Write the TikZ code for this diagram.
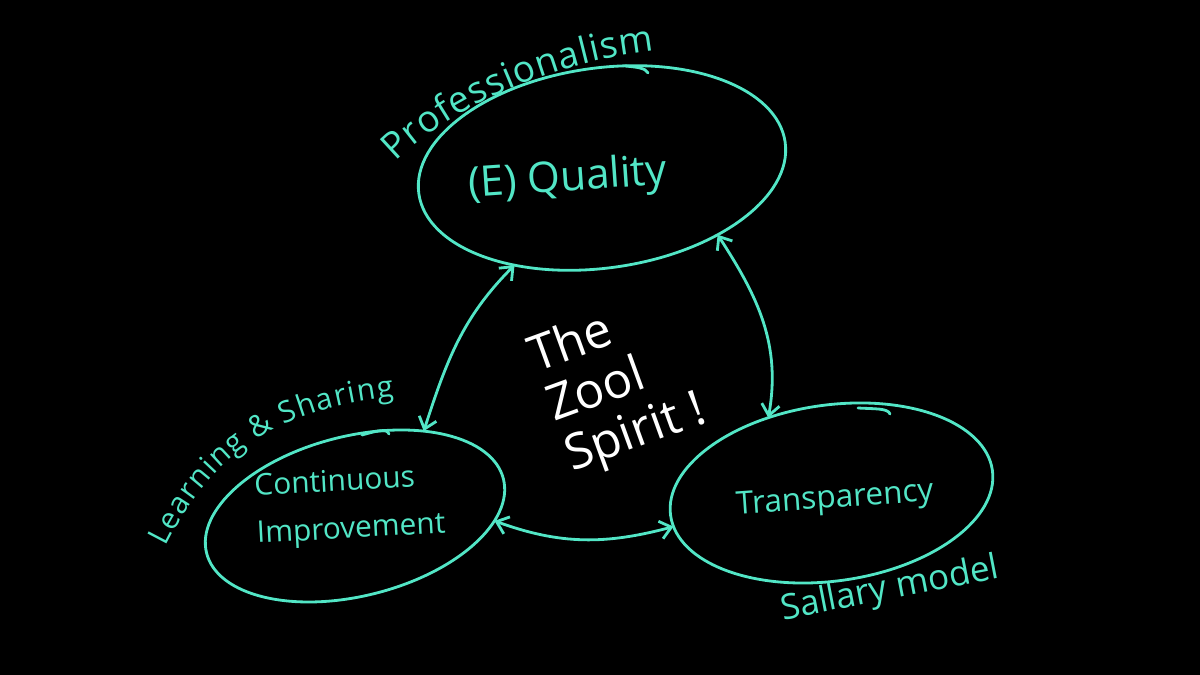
\documentclass[tikz,border=0pt]{standalone}
\usepackage{fontspec}
\setmainfont{Open Sans}
\usetikzlibrary{arrows.meta,shapes.geometric,decorations.text}
\definecolor{mint}{RGB}{82,230,198}
\begin{document}
\begin{tikzpicture}[x=0.02cm,y=0.02cm,
  pen/.style={draw=mint,line width=1.6pt,line cap=round},
  blob/.style={ellipse,draw=mint,line width=1.6pt,inner sep=0pt,outer sep=0pt},
  barb/.tip={Straight Barb[length=2.2mm,width=3.6mm]},
  conn/.style={draw=mint,line width=1.6pt,line cap=round,barb-barb},
  lbl/.style={text=mint,inner sep=0pt}]
\fill[black] (0,0) rectangle (1200,675);
\useasboundingbox (0,0) rectangle (1200,675);

% ellipses
\node[blob,minimum width=7.4cm,minimum height=4cm,rotate=8] (q) at (602,507) {};
\node[blob,minimum width=6.12cm,minimum height=3.2cm,rotate=14] (ci) at (355,159) {};
\node[blob,minimum width=6.5cm,minimum height=3.52cm,rotate=8] (t) at (831.5,182) {};

% pen tails
\draw[pen] (625,609) .. controls (636,608) and (646,607) .. (648,602);
\draw[pen] (362,240) .. controls (376,244) and (387,247) .. (389,241);
\draw[pen] (858,267) .. controls (874,266) and (888,267) .. (890,261);

% texts in ellipses
\node[lbl,font=\fontsize{24}{28}\selectfont,rotate=4] (qt) at (568,495) {(E) Quality};
\node[lbl,align=left,font=\fontsize{17}{27}\selectfont,rotate=3] (cit) at (350,168) {Continuous\\Improvement};
\node[lbl,font=\fontsize{18}{22}\selectfont,rotate=4] (tt) at (835,175) {Transparency};

% outer labels
\path[decorate,decoration={text along path,text align={fit to path},
  text={|\fontsize{21}{24}\selectfont\color{mint}|Professionalism}}]
  (396,513) .. controls (438,556) and (532,610) .. (654,624);
\path[decorate,decoration={text along path,text align={fit to path},
  text={|\fontsize{17}{20}\selectfont\color{mint}|Learning {\&} Sharing}}]
  (166,128) .. controls (204,203) and (254,264) .. (394,278);
\node[lbl,font=\fontsize{20}{24}\selectfont,rotate=11] (sm) at (890,85) {Sallary model};

% centre text
\node[text=white,align=left,inner sep=0pt,font=\fontsize{28}{30}\selectfont,rotate=20] (zs) at (618,290) {The\\Zool\\Spirit !};

% connectors
\draw[conn] (ci.37) to[out=72,in=225] (q.220);
\draw[conn] (q.322) to[out=-57,in=80] (t.122);
\draw[conn] (ci.344) to[out=-20,in=195] (t.184);
\end{tikzpicture}
\end{document}
